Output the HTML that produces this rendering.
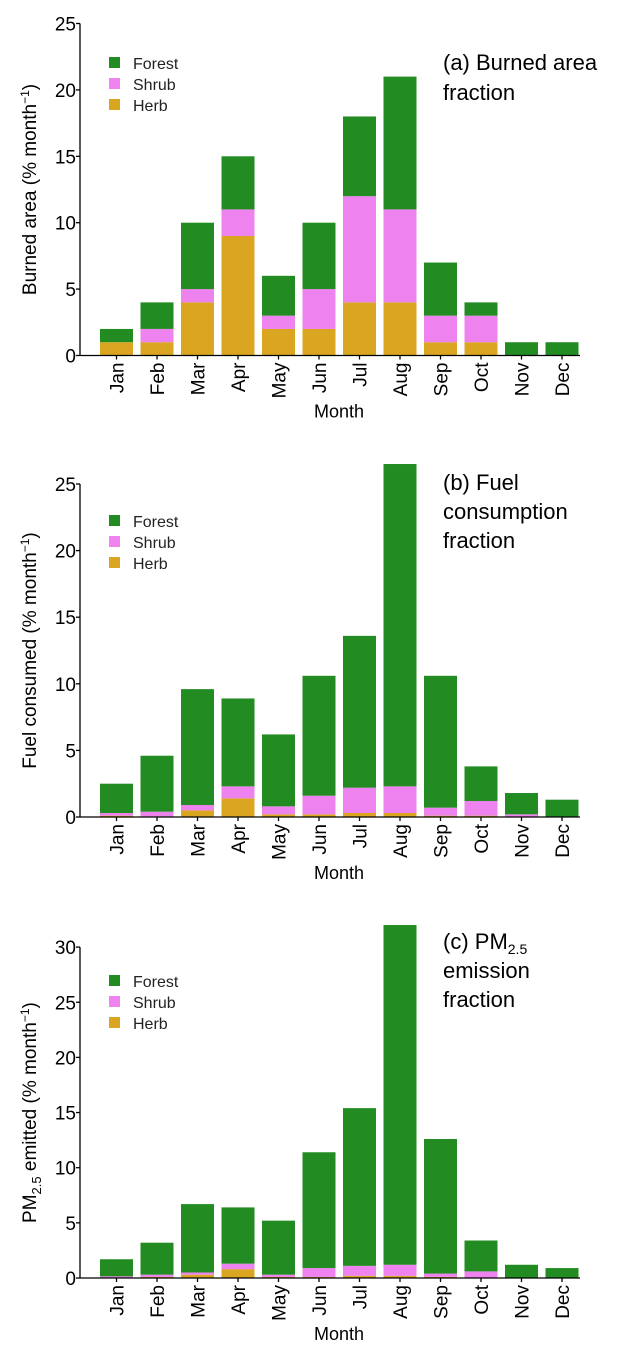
<!DOCTYPE html>
<html><head><meta charset="utf-8"><style>
html,body{margin:0;padding:0;background:#fff;}
svg{display:block;font-family:"Liberation Sans",Arial,sans-serif;}
</style></head><body>
<svg id="chart" width="628" height="1356" viewBox="0 0 628 1356" xmlns="http://www.w3.org/2000/svg"></svg>
<script>
const months = ["Jan","Feb","Mar","Apr","May","Jun","Jul","Aug","Sep","Oct","Nov","Dec"];
const aHerb   = [1,1,4,9,2,2,4,4,1,1,0,0];
const aShrub  = [0,1,1,2,1,3,8,7,2,2,0,0];
const aForest = [1,2,5,4,3,5,6,10,4,1,1,1];
const bHerb   = [0.1,0.05,0.5,1.4,0.2,0.2,0.3,0.3,0.1,0.1,0,0];
const bShrub  = [0.2,0.35,0.4,0.9,0.6,1.4,1.9,2.0,0.6,1.1,0.2,0];
const bForest = [2.2,4.2,8.7,6.6,5.4,9.0,11.4,24.2,9.9,2.6,1.6,1.3];
const cHerb   = [0,0.1,0.3,0.8,0.1,0.1,0.2,0.2,0.1,0,0,0];
const cShrub  = [0.15,0.2,0.2,0.5,0.2,0.8,0.9,1.0,0.3,0.6,0,0];
const cForest = [1.55,2.9,6.2,5.1,4.9,10.5,14.3,30.8,12.2,2.8,1.2,0.9];
const aTicks = [0,5,10,15,20,25];
const bTicks = [0,5,10,15,20,25];
const cTicks = [0,5,10,15,20,25,30];

const NS="http://www.w3.org/2000/svg";
const svg=document.getElementById('chart');
const COL={Forest:"#228B22",Shrub:"#EE82EE",Herb:"#DAA520"};
function mk(tag,attrs,parent){const e=document.createElementNS(NS,tag);for(const k in attrs)e.setAttribute(k,attrs[k]);(parent||svg).appendChild(e);return e;}
const xAxisL=80,xAxisR=580,barW=33;
function xc(i){return 116.5+40.5*i;}

function panel(key,y0,scale,ticks,herb,shrub,forest,ylabel,titleLines,legendY){
  const g=mk('g',{});
  
  
  const y=v=>y0-v*scale;
  for(let i=0;i<months.length;i++){
    let base=0;
    const segs=[["Herb",herb[i]],["Shrub",shrub[i]],["Forest",forest[i]]];
    for(const [nm,v] of segs){
      if(v<=0)continue;
      const r=mk('rect',{x:xc(i)-barW/2,y:y(base+v),width:barW,height:v*scale,fill:COL[nm]},g);
      
      
      base+=v;
    }
  }
  const topY=y(ticks[ticks.length-1]);
  const ya=mk('line',{x1:xAxisL,y1:topY,x2:xAxisL,y2:y0,stroke:"#000","stroke-width":1.3},g);
  
  
  const xa=mk('line',{x1:xAxisL,y1:y0,x2:xAxisR,y2:y0,stroke:"#000","stroke-width":1.3},g);
  
  
  for(const t of ticks){
    mk('line',{x1:xAxisL-4,y1:y(t),x2:xAxisL,y2:y(t),stroke:"#000","stroke-width":1.3},g);
    const tx=mk('text',{x:xAxisL-4,y:y(t)+7,"text-anchor":"end","font-size":19},g);
    tx.textContent=t;
    
    
  }
  for(let i=0;i<months.length;i++){
    mk('line',{x1:xc(i),y1:y0,x2:xc(i),y2:y0+4,stroke:"#000","stroke-width":1.3},g);
    const tx=mk('text',{transform:`translate(${xc(i)+7},${y0+7}) rotate(-90)`,"text-anchor":"end","font-size":19},g);
    tx.textContent=months[i];
    
    
  }
  const xt=mk('text',{x:339,y:y0+62,"text-anchor":"middle","font-size":18},g);
  xt.textContent="Month";
  
  
  const yt=mk('text',{transform:`translate(36,${(topY+y0)/2}) rotate(-90)`,"text-anchor":"middle","font-size":19},g);
  yt.innerHTML=ylabel;
  
  
  ["Forest","Shrub","Herb"].forEach((nm,k)=>{
    const ly=legendY+k*21;
    const s=mk('rect',{x:109,y:ly-6,width:11,height:11,fill:COL[nm]},g);
    
    
    const t=mk('text',{x:133,y:ly+6,"font-size":16,fill:"#222"},g);
    t.textContent=nm;
    
    
  });
  titleLines.forEach((ln,k)=>{
    const t=mk('text',{x:443,y:ln[1],"font-size":22},g);
    t.innerHTML=ln[0];
    
    
  });
}
const mo='(% month<tspan dy="-7" font-size="12">−1</tspan><tspan dy="7">)</tspan>';
panel('a',355.5,13.28,aTicks,aHerb,aShrub,aForest,'Burned area '+mo,
  [["(a) Burned area",70],["fraction",100]],63);
panel('b',817,13.32,bTicks,bHerb,bShrub,bForest,'Fuel consumed '+mo,
  [["(b) Fuel",490],["consumption",519],["fraction",548]],521);
panel('c',1278,11.03,cTicks,cHerb,cShrub,cForest,'PM<tspan dy="5" font-size="13">2.5</tspan><tspan dy="-5"> emitted </tspan>'+mo,
  [['(c) PM<tspan dy="5" font-size="14">2.5</tspan>',949],["emission",978],["fraction",1007]],981);
</script>
</body></html>
